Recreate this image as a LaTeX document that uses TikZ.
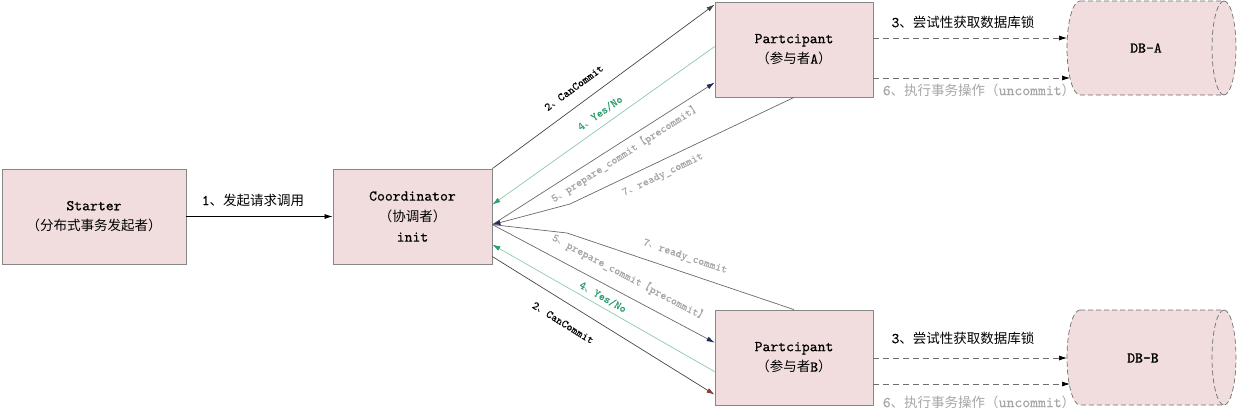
\documentclass[tikz,border=0pt]{standalone}
\usepackage{fontspec}
\setmainfont{lmmono10-regular.otf}[FakeBold=0.5]
\newfontfamily\cjk{Noto Sans CJK SC}[Scale=0.9]
\usetikzlibrary{arrows.meta,calc}
\definecolor{boxfill}{RGB}{241,221,221}
\definecolor{boxborder}{RGB}{135,135,135}
\definecolor{greentext}{RGB}{46,158,110}
\definecolor{greenline}{RGB}{140,201,170}
\definecolor{navy}{RGB}{31,45,90}
\definecolor{brownhead}{RGB}{139,58,50}
\definecolor{graytext}{RGB}{166,166,166}
\definecolor{grayline}{RGB}{105,105,105}
\definecolor{darkline}{RGB}{70,70,70}
\definecolor{dashline}{RGB}{110,110,110}
\begin{document}
\begin{tikzpicture}[x=1pt,y=-1pt,
  box/.style={draw=boxborder, fill=boxfill, line width=0.8pt, minimum height=95pt,
    align=center, inner sep=0pt, font=\fontsize{15}{20.5}\selectfont},
  dbshape/.style={draw=dashline, fill=boxfill, dashed, dash pattern=on 5pt off 3pt, line width=0.7pt},
  conn/.style={line width=0.7pt},
  tip/.style={-{Latex[length=8pt,width=5pt]}},
  dlink/.style={draw=dashline, line width=0.7pt, dash pattern=on 6pt off 4pt, -{Latex[length=8pt,width=5pt,color=black]}},
  difflab/.style={font=\fontsize{11.4}{13}\selectfont, inner sep=0pt},
  biglab/.style={font=\fontsize{15}{17}\selectfont, inner sep=0pt}]
\useasboundingbox (0,0) rectangle (1240,415);

% boxes
\node[box, minimum width=184pt] (starter) at (94,216.5) {Starter\\{\cjk （分布式事务发起者）}};
\node[box, minimum width=159pt] (coord) at (412.5,216.5) {Coordinator\\{\cjk （协调者）}\\init};
\node[box, minimum width=158pt] (partA) at (794,49.5) {Partcipant\\{\cjk （参与者}A{\cjk ）}};
\node[box, minimum width=158pt] (partB) at (794,357.5) {Partcipant\\{\cjk （参与者}B{\cjk ）}};

% databases
\path[dbshape] (1080,1) -- (1224,1) arc[start angle=-90, end angle=90, x radius=12, y radius=47]
  -- (1080,95) arc[start angle=90, end angle=270, x radius=13, y radius=47] -- cycle;
\path[dbshape, fill=none] (1224,1) arc[start angle=-90, end angle=-270, x radius=12, y radius=47];
\node[biglab] (dbA) at (1146,48) {DB-A};

\path[dbshape] (1080,310) -- (1224,310) arc[start angle=-90, end angle=90, x radius=12, y radius=47.5]
  -- (1080,405) arc[start angle=90, end angle=270, x radius=13, y radius=47.5] -- cycle;
\path[dbshape, fill=none] (1224,310) arc[start angle=-90, end angle=-270, x radius=12, y radius=47.5];
\node[biglab] (dbB) at (1143,358) {DB-B};

% named end points
\coordinate (dbA3) at (1067,38);
\coordinate (dbA6) at (1070,78);
\coordinate (dbB3) at (1067,358);
\coordinate (dbB6) at (1070,384);
\coordinate (bendA) at (570,204);
\coordinate (bendB) at (567,233);

% 1
\draw[conn, draw=black, tip] (starter.east) -- (coord.west);
\node[biglab] (l1) at (253,200) {1{\cjk 、发起请求调用}};

% upper diagonal links
\draw[conn, draw=darkline, tip] (coord.north east) -- ($(partA.north west)+(0,3)$);
\draw[conn, draw=greenline, -{Latex[length=8pt,width=5pt,color=greentext]}] ($(partA.north west)+(0,45)$) -- ($(coord.north east)+(0,36)$);
\draw[conn, draw=grayline, -{Latex[length=8pt,width=5pt,color=navy]}] ($(coord.north east)+(0,56)$) -- ($(partA.north west)+(0,81)$);
\draw[conn, draw=grayline, -{Latex[length=8pt,width=5pt,color=navy]}] (partA.south) -- (bendA) -- ($(coord.north east)+(0,56)$);

% lower diagonal links
\draw[conn, draw=grayline, -{Latex[length=8pt,width=5pt,color=navy]}] ($(coord.north east)+(0,56)$) -- ($(partB.north west)+(0,33)$);
\draw[conn, draw=grayline] (partB.north) -- (bendB) -- ($(coord.north east)+(0,56)$);
\draw[conn, draw=greenline, -{Latex[length=8pt,width=5pt,color=greentext]}] ($(partB.north west)+(0,62)$) -- ($(coord.north east)+(0,76)$);
\draw[conn, draw=darkline, -{Latex[length=8pt,width=5pt,color=brownhead]}] ($(coord.north east)+(0,88)$) -- ($(partB.north west)+(0,85)$);

% diagonal labels
\node[difflab, rotate=36.3] (l2A) at (574,88) {2{\cjk 、}CanCommit};
\node[difflab, rotate=35.3, text=greentext] (l4A) at (600,113) {4{\cjk 、}Yes/No};
\node[difflab, rotate=32.5, text=graytext] (l5A) at (626,153) {5{\cjk 、}prepare\_commit{\cjk 【}precommit{\cjk 】}};
\node[difflab, rotate=25.4, text=graytext] (l7A) at (663,175) {7{\cjk 、}ready\_commit};

\node[difflab, rotate=-27.9, text=graytext] (l5B) at (630,278) {5{\cjk 、}prepare\_commit{\cjk 【}precommit{\cjk 】}};
\node[difflab, rotate=-18.7, text=graytext] (l7B) at (685,257) {7{\cjk 、}ready\_commit};
\node[difflab, rotate=-29.7, text=greentext] (l4B) at (603,297) {4{\cjk 、}Yes/No};
\node[difflab, rotate=-31.8] (l2B) at (563,323) {2{\cjk 、}CanCommit};

% participant -> db
\draw[dlink] ($(partA.east)+(0,-11.5)$) -- (dbA3);
\draw[dlink] ($(partA.east)+(0,28.5)$) -- (dbA6);
\draw[dlink] ($(partB.east)+(0,0.5)$) -- (dbB3);
\draw[dlink] ($(partB.east)+(0,26.5)$) -- (dbB6);
\node[biglab] (l3A) at (963,22) {3{\cjk 、尝试性获取数据库锁}};
\node[biglab, text=graytext] (l6A) at (979,90) {6{\cjk 、执行事务操作（}uncommit{\cjk ）}};
\node[biglab] (l3B) at (963,338) {3{\cjk 、尝试性获取数据库锁}};
\node[biglab, text=graytext] (l6B) at (979,402) {6{\cjk 、执行事务操作（}uncommit{\cjk ）}};
\end{tikzpicture}
\end{document}
